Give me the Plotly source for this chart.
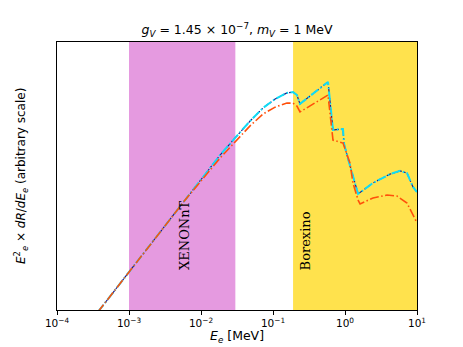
import numpy as np
import plotly.graph_objects as go

# electron recoil energy [MeV] and E^2 dR/dE in arbitrary units (0-100 = full axis height)
energy_sm = [3.71e-4, 1.0e-3, 6.0e-3, 1.84e-2, 2.97e-2, 4.80e-2, 7.27e-2, 0.107, 0.156,
             0.190, 0.215, 0.237, 0.581, 0.681, 0.938, 0.97, 1.10, 1.25, 1.38, 1.52,
             2.45, 4.22, 5.81, 7.26, 8.80, 10.0]
rate_sm = [-0.7, 14.2, 41.0, 57.8, 64.2, 70.5, 75.4, 78.7, 81.0,
           81.3, 80.2, 76.9, 85.1, 67.2, 67.5, 62.0, 56.5, 51.0, 47.0, 43.3,
           47.4, 50.7, 51.9, 51.1, 45.9, 44.0]
rate_sm_total = rate_sm

energy_bsm = [3.71e-4, 1.0e-3, 6.0e-3, 1.84e-2, 2.97e-2, 4.80e-2, 7.27e-2, 0.107, 0.156,
              0.190, 0.215, 0.237, 0.581, 0.681, 0.938, 1.17, 1.29, 1.52, 1.62,
              2.45, 3.83, 5.27, 7.26, 10.0]
rate_bsm = [-0.7, 14.2, 41.0, 56.7, 62.7, 68.7, 73.1, 75.7, 77.2,
            77.2, 76.1, 73.9, 80.2, 63.4, 62.3, 54.9, 47.4, 41.0, 39.6,
            41.8, 42.9, 42.5, 39.9, 32.5]

xenon_range = [1e-3, 3e-2]
borexino_range = [0.19, 10]
x_ticks = [1e-4, 1e-3, 1e-2, 1e-1, 1e0, 1e1]
x_ticktext = ["10<sup>−4</sup>", "10<sup>−3</sup>", "10<sup>−2</sup>",
              "10<sup>−1</sup>", "10<sup>0</sup>", "10<sup>1</sup>"]

dashdot = "9px,2.5px,1.5px,2.5px"

fig = go.Figure()

fig.add_vrect(x0=xenon_range[0], x1=xenon_range[1], fillcolor="#e59ae0",
              line_width=0, layer="below")
fig.add_vrect(x0=borexino_range[0], x1=borexino_range[1], fillcolor="#ffe24d",
              line_width=0, layer="below")

fig.add_trace(go.Scatter(x=energy_sm, y=rate_sm_total, mode="lines",
                         line=dict(color="#1b1b8a", width=1.2, dash="5px,2px,2px,2px")))
fig.add_trace(go.Scatter(x=energy_sm, y=rate_sm, mode="lines",
                         line=dict(color="#10dcf5", width=2, dash=dashdot)))
fig.add_trace(go.Scatter(x=energy_bsm, y=rate_bsm, mode="lines",
                         line=dict(color="#ff500a", width=1.6, dash=dashdot)))

fig.add_annotation(text="XENONnT", x=np.log10(6.0e-3), y=0.142, xref="x", yref="paper",
                   textangle=-90, showarrow=False, xanchor="center", yanchor="bottom",
                   font=dict(family="DejaVu Serif", size=13, color="black"))
fig.add_annotation(text="Borexino", x=np.log10(0.278), y=0.142, xref="x", yref="paper",
                   textangle=-90, showarrow=False, xanchor="center", yanchor="bottom",
                   font=dict(family="DejaVu Serif", size=13, color="black"))

# axis titles placed by hand to match matplotlib spacing
fig.add_annotation(text="<i>E</i><sub><i>e</i></sub> [MeV]", x=0.5, y=-0.1,
                   xref="paper", yref="paper", showarrow=False, yanchor="middle",
                   font=dict(size=12.5))
fig.add_annotation(text="<i>E</i><sup>2</sup><sub><i>e</i></sub> × <i>dR</i>/<i>dE</i><sub><i>e</i></sub> (arbitrary scale)",
                   x=-0.1, y=0.5, xref="paper", yref="paper", showarrow=False,
                   textangle=-90, xanchor="center", yanchor="middle",
                   font=dict(size=12))

# page body adds an 8px offset, so the figure is shrunk by that much
fig.update_layout(
    width=455, height=339,
    margin=dict(l=49, r=46, t=34, b=37),
    plot_bgcolor="white", paper_bgcolor="white",
    showlegend=False,
    font=dict(family="DejaVu Sans", color="black"),
    title=dict(text="<i>g</i><sub><i>V</i></sub> = 1.45 × 10<sup>−7</sup>, <i>m</i><sub><i>V</i></sub> = 1 MeV",
               x=0.5, xref="paper", y=1 - 22 / 339, yref="container",
               xanchor="center", yanchor="middle", font=dict(size=12.5)),
    xaxis=dict(type="log", range=[-4, 1], tickvals=x_ticks, ticktext=x_ticktext,
               ticks="outside", ticklen=3.5, tickwidth=0.8, tickcolor="black",
               tickfont=dict(size=10.5), showgrid=False, zeroline=False,
               showline=True, linecolor="black", linewidth=1, mirror=True),
    yaxis=dict(range=[0, 100], showticklabels=False, ticks="", showgrid=False,
               zeroline=False, showline=True, linecolor="black", linewidth=1, mirror=True),
)

fig.write_html("out.html")
